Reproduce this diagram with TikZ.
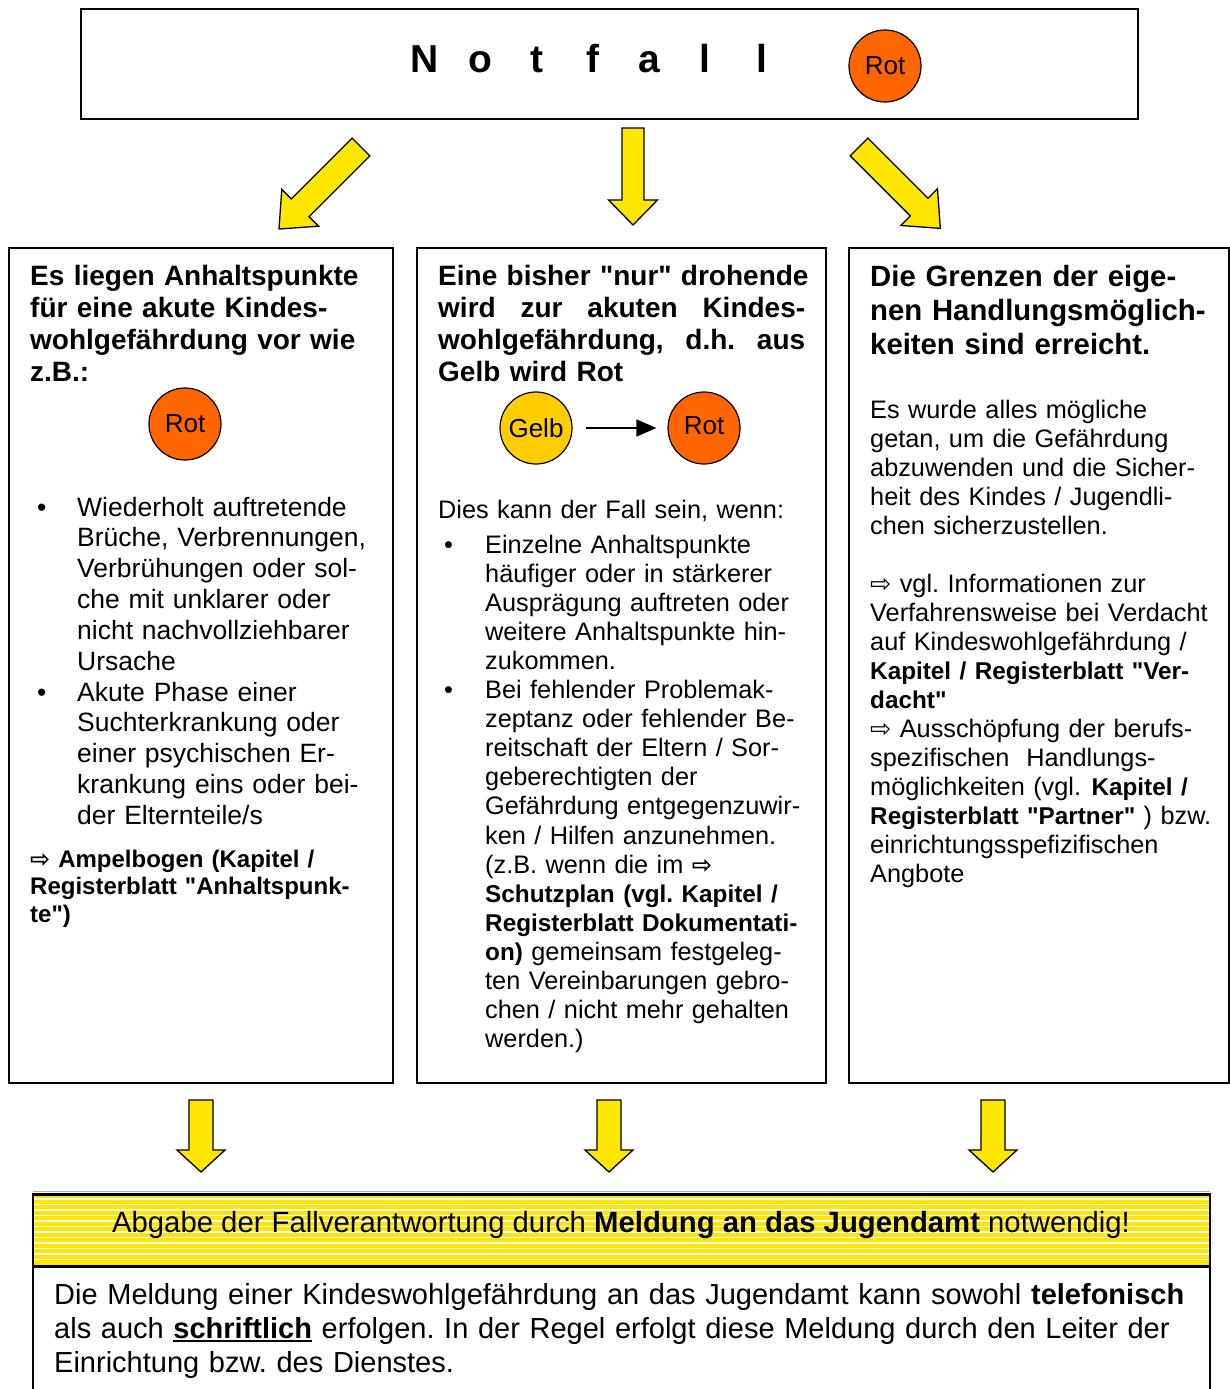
\documentclass[tikz,border=0pt]{standalone}
\usepackage{fontspec}
\setmainfont[Ligatures=TeXOff]{Liberation Sans}
\newfontfamily\symf{DejaVu Sans}
\usetikzlibrary{arrows.meta}
\definecolor{ayellow}{HTML}{FFE600}
\definecolor{rotc}{HTML}{FF6600}
\definecolor{gelbc}{HTML}{FFCC00}
\setlength\parindent{0pt}
\frenchspacing
\newcommand{\fs}[2]{\fontsize{#1pt}{#2pt}\selectfont}
\newcommand{\pfeil}{{\symf ⇨}}
\newcommand{\bsm}[1]{{\fontsize{24.3pt}{29pt}\selectfont\bfseries #1}}
\newcommand{\myul}[1]{\setbox0\hbox{#1}\rlap{\rule[-4pt]{\wd0}{2.4pt}}\box0{}}
% fat arrow: {x,y of tail centre}{angle}{length}{shaft half width}{head half width}{head length}
\newcommand{\fatarrow}[6]{%
  \begin{scope}[shift={(#1)}, rotate=#2]
    \draw[fatarr] (0,-#4) -- (#3-#6,-#4) -- (#3-#6,-#5) -- (#3,0) -- (#3-#6,#5) -- (#3-#6,#4) -- (0,#4) -- cycle;
  \end{scope}}
\tikzset{
  box/.style={draw, line width=1.5pt},
  fatarr/.style={draw, line width=1.3pt, fill=ayellow, line join=miter},
  circ/.style={circle, draw, line width=1.2pt, minimum size=72pt, inner sep=0pt, font=\fs{26}{30}},
  txt/.style={anchor=base west, inner sep=0pt, align=left, text width=460pt},
}
\begin{document}
\begin{tikzpicture}[x=1pt,y=-1pt]
\useasboundingbox[fill=white] (0,0) rectangle (1230,1389);

% top box
\draw[box] (81,9) rectangle (1138,119);
\node[anchor=base, inner sep=0pt, font=\fs{39}{44}\bfseries] (title) at (593,73)
  {\makebox[56.2pt]{N}\makebox[56.2pt]{o}\makebox[56.2pt]{t}\makebox[56.2pt]{f}\makebox[56.2pt]{a}\makebox[56.2pt]{l}\makebox[56.2pt]{l}};
\node[circ, fill=rotc] (toprot) at (885,66) {Rot};

% top arrows
\fatarrow{361,147}{-135}{116}{12.5}{26}{30}
\fatarrow{633,128}{-90}{97}{11}{24.5}{25}
\fatarrow{859,147}{-45}{115}{12.5}{26}{30}

% column boxes
\draw[box] (9,248) rectangle (393,1083);
\draw[box] (417,248) rectangle (826,1083);
\draw[box] (849,248) rectangle (1229,1083);

% left column
\node[txt, font=\fs{28}{32.3}\bfseries] (lh) at (30,285)
  {Es liegen Anhaltspunkte\\für eine akute Kindes-\\wohlgefährdung vor wie\\z.B.:};
\node[circ, fill=rotc] (lrot) at (185,424) {Rot};
\node[txt, text width=30pt, font=\fs{26.5}{30.8}] (lb1) at (37,516) {•};
\node[txt, font=\fs{26.5}{30.8}] (lt1) at (77,516)
  {Wiederholt auftretende\\Brüche, Verbrennungen,\\Verbrühungen oder sol-\\che mit unklarer oder\\nicht nachvollziehbarer\\Ursache};
\node[txt, text width=30pt, font=\fs{26.5}{30.8}] (lb2) at (37,701) {•};
\node[txt, font=\fs{26.5}{30.8}] (lt2) at (77,701)
  {Akute Phase einer\\Suchterkrankung oder\\einer psychischen Er-\\krankung eins oder bei-\\der Elternteile/s};
\node[txt, font=\fs{24}{27.5}\bfseries] (la) at (30,867)
  {\pfeil\ Ampelbogen (Kapitel /\\Registerblatt "Anhaltspunk-\\te")};

% middle column
\node[txt, font=\fs{28}{32.3}\bfseries] (mh) at (438,285)
  {Eine bisher "nur" drohende\\\makebox[367pt][s]{wird\hfill zur\hfill akuten\hfill Kindes-}\\\makebox[367pt][s]{wohlgefährdung,\hfill d.h.\hfill aus}\\Gelb wird Rot};
\node[circ, fill=gelbc] (mgelb) at (536,428) {Gelb};
\node[circ, fill=rotc] (mrot) at (704,428) {\raisebox{5pt}{Rot}};
\draw[line width=1.5pt, -{Triangle[length=20pt,width=17pt]}, shorten <=13pt, shorten >=11pt] (mgelb) -- (mrot);
\node[txt, font=\fs{25.3}{29.1}] (md) at (438,518) {Dies kann der Fall sein, wenn:};
\node[txt, text width=30pt, font=\fs{25.3}{29.1}] (mb1) at (444,553) {•};
\node[txt, font=\fs{25.3}{29.1}] (mt1) at (485,553)
  {Einzelne Anhaltspunkte\\häufiger oder in stärkerer\\Ausprägung auftreten oder\\weitere Anhaltspunkte hin-\\zukommen.};
\node[txt, text width=30pt, font=\fs{25.3}{29.1}] (mb2) at (444,698.5) {•};
\node[txt, font=\fs{25.3}{29.1}] (mt2) at (485,698.5)
  {Bei fehlender Problemak-\\zeptanz oder fehlender Be-\\reitschaft der Eltern / Sor-\\geberechtigten der\\Gefährdung entgegenzuwir-\\ken / Hilfen anzunehmen.\\(z.B. wenn die im \bsm{\pfeil}\\\bsm{Schutzplan (vgl. Kapitel /}\\\bsm{Registerblatt Dokumentati-}\\\bsm{on)} gemeinsam festgeleg-\\ten Vereinbarungen gebro-\\chen / nicht mehr gehalten\\werden.)};

% right column
\node[txt, font=\fs{29.3}{34}\bfseries] (rh) at (870,286)
  {Die Grenzen der eige-\\nen Handlungsmöglich-\\keiten sind erreicht.};
\node[txt, font=\fs{25.3}{29}] (rb) at (870,418)
  {Es wurde alles mögliche\\getan, um die Gefährdung\\abzuwenden und die Sicher-\\heit des Kindes / Jugendli-\\chen sicherzustellen.\\[29pt]
   \pfeil\ vgl. Informationen zur\\Verfahrensweise bei Verdacht\\auf Kindeswohlgefährdung /\\\bsm{Kapitel / Registerblatt "Ver-}\\\bsm{dacht"}\\
   \pfeil\ Ausschöpfung der berufs-\\spezifischen\ \ Handlungs-\\möglichkeiten (vgl.\ \hspace{2pt}\bsm{Kapitel /}\\\bsm{Registerblatt "Partner"} ) bzw.\\einrichtungsspefizifischen\\Angbote};

% bottom arrows
\fatarrow{201,1100}{-90}{72}{12}{24}{22}
\fatarrow{609,1100}{-90}{72}{12}{24}{22}
\fatarrow{993,1100}{-90}{72}{12}{24}{22}

% banner
\fill[ayellow] (33,1193) rectangle (1210,1268);
\foreach \yy in {1199,1204.5,...,1264} \draw[white, line width=1.3pt] (34,\yy) -- (1209,\yy);
\draw[gray!60, line width=1pt] (33,1191) -- (1210,1191);
\draw[line width=3pt] (33,1194.5) -- (1210,1194.5);
\draw[line width=3pt] (33,1266.5) -- (1210,1266.5);
\draw[line width=1.5pt] (33,1193) -- (33,1389) (1210,1193) -- (1210,1389);
\node[anchor=base, inner sep=0pt, font=\fs{29.3}{33}] (ban) at (621,1232)
  {Abgabe der Fallverantwortung durch \textbf{Meldung an das Jugendamt} notwendig!};
\node[txt, text width=1150pt, font=\fs{29}{34}] (bt) at (54,1304)
  {Die Meldung einer Kindeswohlgefährdung an das Jugendamt kann sowohl \textbf{telefonisch}\\als auch \myul{\textbf{schriftlich}} erfolgen. In der Regel erfolgt diese Meldung durch den Leiter der\\Einrichtung bzw. des Dienstes.};
\end{tikzpicture}
\end{document}
